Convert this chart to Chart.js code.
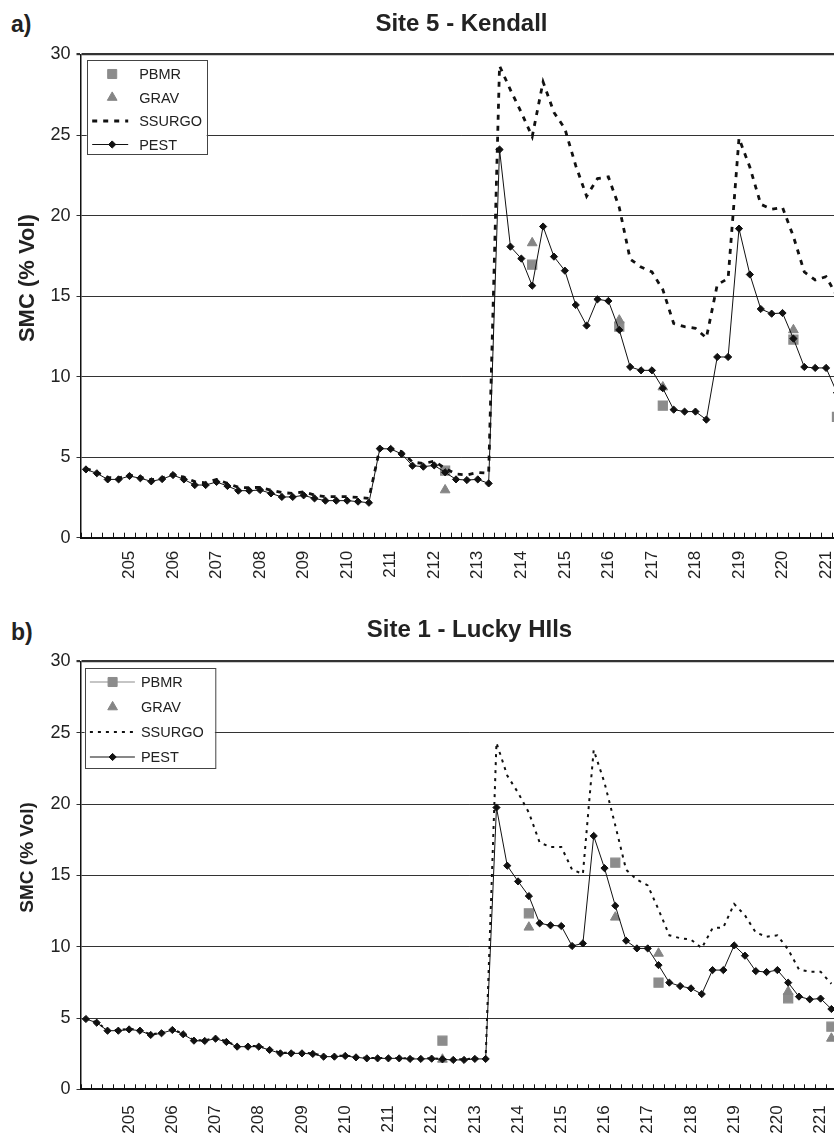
<!DOCTYPE html>
<html>
<head>
<meta charset="utf-8">
<script src="https://cdn.jsdelivr.net/npm/chart.js@4.4.1/dist/chart.umd.min.js"></script>
<style>
  html, body { margin: 0; padding: 0; background: #fff; }
  body { width: 834px; height: 1135px; overflow: hidden; position: relative; font-family: "Liberation Sans", Arial, sans-serif; }
  canvas { position: absolute; left: 0; display: block; }
  .letra { position: absolute; left: 11px; font-weight: bold; font-size: 23px; color: #222; line-height: 26px; }
</style>
</head>
<body>
<div class="letra" style="top:11px">a)</div>
<canvas id="chartA" width="850" height="592" style="top:0"></canvas>
<div class="letra" style="top:619px">b)</div>
<canvas id="chartB" width="866" height="543" style="top:592px"></canvas>

<script>
// dias (categorias de 6 em 6 horas)
const dias = ['204', '204.25', '204.5', '204.75', '205', '205.25', '205.5', '205.75',
    '206', '206.25', '206.5', '206.75', '207', '207.25', '207.5', '207.75',
    '208', '208.25', '208.5', '208.75', '209', '209.25', '209.5', '209.75',
    '210', '210.25', '210.5', '210.75', '211', '211.25', '211.5', '211.75',
    '212', '212.25', '212.5', '212.75', '213', '213.25', '213.5', '213.75',
    '214', '214.25', '214.5', '214.75', '215', '215.25', '215.5', '215.75',
    '216', '216.25', '216.5', '216.75', '217', '217.25', '217.5', '217.75',
    '218', '218.25', '218.5', '218.75', '219', '219.25', '219.5', '219.75',
    '220', '220.25', '220.5', '220.75', '221', '221.25']
const diasExtraB = ['221.5', '221.75']

const rotulosX = ['205', '206', '207', '208', '209', '210', '211', '212', '213',
    '214', '215', '216', '217', '218', '219', '220', '221']

// a) Site 5 - Kendall
const pestA = [4.24, 4.0, 3.62, 3.62, 3.83, 3.69, 3.5, 3.64, 3.89, 3.62,
    3.27, 3.27, 3.46, 3.21, 2.92, 2.92, 2.96, 2.75, 2.53, 2.53,
    2.63, 2.44, 2.3, 2.3, 2.3, 2.24, 2.17, 5.53, 5.51, 5.2,
    4.47, 4.41, 4.49, 4.06, 3.62, 3.58, 3.62, 3.37, 24.1, 18.07,
    17.33, 15.65, 19.32, 17.45, 16.58, 14.45, 13.17, 14.8, 14.7, 12.9,
    10.6, 10.39, 10.39, 9.28, 7.95, 7.83, 7.83, 7.33, 11.22, 11.22,
    19.19, 16.34, 14.2, 13.91, 13.95, 12.36, 10.6, 10.54, 10.54, 9.0]
const ssurgoA = [4.3, 4.05, 3.75, 3.7, 3.9, 3.75, 3.6, 3.7, 3.95, 3.75,
    3.48, 3.4, 3.62, 3.37, 3.13, 3.1, 3.13, 2.95, 2.8, 2.75,
    2.84, 2.65, 2.55, 2.55, 2.55, 2.5, 2.44, 5.55, 5.55, 5.34,
    4.7, 4.6, 4.75, 4.3, 3.95, 3.9, 4.05, 4.0, 29.3, 27.8,
    26.4, 24.9, 28.3, 26.4, 25.4, 23.1, 21.2, 22.3, 22.4, 20.5,
    17.3, 16.8, 16.5, 15.4, 13.3, 13.1, 13.0, 12.4, 15.7, 16.1,
    24.8, 23.0, 20.7, 20.4, 20.5, 18.7, 16.5, 16.0, 16.2, 15.0]
const diasPbmrA = ['212.25', '214.25', '216.25', '217.25', '220.25', '221.25']
const pbmrA = [4.16, 16.95, 13.1, 8.2, 12.3, 7.5]
const diasGravA = ['212.25', '214.25', '216.25', '217.25', '220.25']
const gravA = [2.96, 18.3, 13.5, 9.35, 12.9]

// b) Site 1 - Lucky Hills
const pestB = [4.93, 4.67, 4.11, 4.11, 4.2, 4.11, 3.81, 3.93, 4.16, 3.86,
    3.41, 3.39, 3.55, 3.32, 2.99, 2.99, 2.99, 2.76, 2.52, 2.52,
    2.52, 2.48, 2.29, 2.29, 2.34, 2.24, 2.17, 2.17, 2.17, 2.17,
    2.13, 2.13, 2.15, 2.1, 2.06, 2.06, 2.13, 2.13, 19.76, 15.68,
    14.58, 13.55, 11.64, 11.5, 11.45, 10.05, 10.23, 17.77, 15.51, 12.87,
    10.42, 9.88, 9.88, 8.71, 7.48, 7.24, 7.08, 6.68, 8.36, 8.36,
    10.09, 9.37, 8.29, 8.22, 8.36, 7.48, 6.5, 6.31, 6.36, 5.63]
const ssurgoB = [4.95, 4.7, 4.15, 4.15, 4.25, 4.15, 3.85, 3.97, 4.2, 3.9,
    3.45, 3.43, 3.6, 3.37, 3.03, 3.03, 3.03, 2.8, 2.57, 2.57,
    2.57, 2.52, 2.33, 2.33, 2.37, 2.28, 2.2, 2.2, 2.2, 2.2,
    2.16, 2.16, 2.18, 2.13, 2.1, 2.1, 2.16, 2.16, 24.3, 22.0,
    20.8, 19.4, 17.3, 17.0, 17.0, 15.4, 15.1, 23.8, 21.5, 18.5,
    15.4, 14.7, 14.3, 12.6, 10.8, 10.6, 10.5, 9.9, 11.3, 11.35,
    13.0, 12.2, 11.0, 10.7, 10.8, 9.8, 8.4, 8.25, 8.25, 7.4]
const diasPbmrB = ['212.25', '214.25', '216.25', '217.25', '220.25', '221.25']
const pbmrB = [3.41, 12.34, 15.89, 7.48, 6.38, 4.39]
const diasGravB = ['212.25', '214.25', '216.25', '217.25', '220.25', '221.25']
const gravB = [2.1, 11.36, 12.06, 9.53, 6.85, 3.57]

const corTexto = '#222'
const fonte = '"Liberation Sans", Arial, sans-serif'
Chart.defaults.font.family = fonte
Chart.defaults.color = corTexto

function pontos(listaDias, valores) {
    let saida = []
    for (let i = 0; i < listaDias.length; i++) {
        saida.push({ x: listaDias[i], y: valores[i] })
    }
    return saida
}

// marcas do eixo x, para dentro do grafico
const pluginMarcasX = {
    id: 'marcasX',
    afterDraw: function (chart) {
        const escala = chart.scales.x
        const ctx = chart.ctx
        const n = chart.data.labels.length
        const passo = escala.getPixelForValue(1) - escala.getPixelForValue(0)
        const base = chart.chartArea.bottom
        ctx.save()
        ctx.strokeStyle = '#111'
        ctx.lineWidth = 1
        ctx.beginPath()
        for (let i = 0; i <= n; i++) {
            const px = Math.round(escala.getPixelForValue(0) - passo / 2 + i * passo) + 0.5
            ctx.moveTo(px, base)
            ctx.lineTo(px, base - 5)
        }
        ctx.stroke()
        ctx.restore()
    }
}

// titulo do eixo y
const pluginTituloY = {
    id: 'tituloY',
    afterDraw: function (chart, args, opcoes) {
        const area = chart.chartArea
        const ctx = chart.ctx
        ctx.save()
        ctx.translate(28, (area.top + area.bottom) / 2 - 18)
        ctx.rotate(-Math.PI / 2)
        ctx.font = 'bold ' + opcoes.tamanho + 'px ' + fonte
        ctx.fillStyle = corTexto
        ctx.textAlign = 'center'
        ctx.textBaseline = 'middle'
        ctx.fillText(opcoes.texto, 0, 0)
        ctx.restore()
    }
}

// legenda dentro da area do grafico
const pluginLegenda = {
    id: 'legendaInterna',
    afterDraw: function (chart, args, opcoes) {
        const area = chart.chartArea
        const ctx = chart.ctx
        const x0 = area.left + opcoes.dx
        const y0 = area.top + opcoes.dy
        ctx.save()
        ctx.fillStyle = '#fff'
        ctx.fillRect(x0, y0, opcoes.largura, opcoes.altura)
        ctx.strokeStyle = '#444'
        ctx.lineWidth = 1
        ctx.strokeRect(Math.round(x0) + 0.5, Math.round(y0) + 0.5, opcoes.largura, opcoes.altura)

        opcoes.itens.forEach(function (item, k) {
            const ds = chart.data.datasets.find(function (d) { return d.label === item })
            const yi = y0 + opcoes.primeiro + k * opcoes.espaco
            const linha = ds.showLine !== false || opcoes.linhaExtra === item
            if (linha) {
                ctx.save()
                ctx.strokeStyle = ds.borderColor
                ctx.lineWidth = ds.borderWidth
                ctx.setLineDash(ds.borderDash || [])
                ctx.beginPath()
                ctx.moveTo(x0 + opcoes.linhaIni, yi)
                ctx.lineTo(x0 + opcoes.linhaFim, yi)
                ctx.stroke()
                ctx.restore()
            }
            if (ds.pointRadius > 0) {
                ctx.fillStyle = ds.pointBackgroundColor
                ctx.strokeStyle = ds.pointBorderColor
                ctx.lineWidth = 1
                Chart.helpers.drawPoint(ctx, {
                    pointStyle: ds.pointStyle, radius: ds.pointRadius, borderWidth: 1, rotation: 0
                }, x0 + opcoes.simbolo, yi)
            }
            ctx.fillStyle = corTexto
            ctx.font = '14.5px ' + fonte
            ctx.textAlign = 'left'
            ctx.textBaseline = 'middle'
            ctx.fillText(item, x0 + opcoes.textoX, yi + 1)
        })
        ctx.restore()
    }
}

function montarGrafico(idCanvas, cfg) {
    return new Chart(document.getElementById(idCanvas), {
        type: 'line',
        data: {
            labels: cfg.categorias,
            datasets: [
                {
                    label: 'PEST', data: cfg.pest, borderColor: '#111', borderWidth: 1,
                    pointStyle: 'rectRot', pointRadius: 3.6, pointBackgroundColor: '#111',
                    pointBorderColor: '#111', pointBorderWidth: 1, tension: 0, order: 0
                },
                {
                    label: 'SSURGO', data: cfg.ssurgo, borderColor: '#111', borderWidth: cfg.larguraSsurgo,
                    borderDash: cfg.tracoSsurgo, pointRadius: 0, tension: 0, order: 1
                },
                {
                    label: 'GRAV', data: pontos(cfg.diasGrav, cfg.grav), showLine: false,
                    pointStyle: 'triangle', pointRadius: 5.6, pointBackgroundColor: '#858585',
                    pointBorderColor: '#858585', borderColor: '#858585', order: 2
                },
                {
                    label: 'PBMR', data: pontos(cfg.diasPbmr, cfg.pbmr), showLine: false,
                    pointStyle: 'rect', pointRadius: 6.4, pointBackgroundColor: '#8c8c8c',
                    pointBorderColor: '#8c8c8c', borderColor: '#8c8c8c', borderWidth: 1.2, order: 3
                }
            ]
        },
        options: {
            responsive: false,
            animation: false,
            devicePixelRatio: 1,
            layout: { padding: { left: 0, right: cfg.padDireita, top: 0, bottom: 0 } },
            plugins: {
                legend: { display: false },
                tooltip: { enabled: false },
                title: {
                    display: true, text: cfg.titulo, fullSize: false, color: corTexto,
                    font: { size: 24, weight: 'bold' },
                    padding: { top: cfg.tituloTopo, bottom: cfg.tituloBase }
                },
                tituloY: { texto: 'SMC (% Vol)', tamanho: cfg.tamanhoTituloY },
                legendaInterna: cfg.legenda
            },
            scales: {
                x: {
                    type: 'category',
                    offset: true,
                    grid: { display: false, drawTicks: false },
                    border: { display: true, color: '#111', width: 2 },
                    ticks: {
                        autoSkip: false, maxRotation: 90, minRotation: 90,
                        padding: cfg.padRotulo, color: corTexto, font: { size: 17 },
                        callback: function (valor, indice) {
                            const d = cfg.categorias[indice]
                            return rotulosX.indexOf(d) >= 0 ? d : ''
                        }
                    },
                    afterFit: function (escala) {
                        escala.height = cfg.alturaX
                        escala.paddingLeft = 0
                        escala.paddingRight = 0
                    }
                },
                y: {
                    min: 0, max: 30,
                    ticks: { stepSize: 5, padding: 6, color: corTexto, font: { size: 18 } },
                    grid: {
                        color: '#333',
                        lineWidth: function (c) { return c.tick && c.tick.value === 30 ? 2.2 : 1 },
                        tickLength: 4
                    },
                    border: { display: true, color: '#111', width: 1.5 },
                    afterFit: function (escala) {
                        escala.width = 80.5
                        escala.paddingTop = 0
                        escala.paddingBottom = 0
                    }
                }
            }
        },
        plugins: [pluginMarcasX, pluginTituloY, pluginLegenda]
    })
}

const graficoA = montarGrafico('chartA', {
    categorias: dias,
    pest: pestA, ssurgo: ssurgoA,
    diasPbmr: diasPbmrA, pbmr: pbmrA, diasGrav: diasGravA, grav: gravA,
    larguraSsurgo: 2.8, tracoSsurgo: [5, 6],
    titulo: 'Site 5 - Kendall',
    tituloTopo: 9.6, tituloBase: 16.1,
    padDireita: 6.5, alturaX: 54.3, padRotulo: 13,
    tamanhoTituloY: 22,
    legenda: {
        itens: ['PBMR', 'GRAV', 'SSURGO', 'PEST'],
        dx: 6.2, dy: 5.5, largura: 120, altura: 94,
        primeiro: 14, espaco: 23.5,
        linhaIni: 5.5, linhaFim: 41.5, simbolo: 25.5, textoX: 52.5
    }
})

const graficoB = montarGrafico('chartB', {
    categorias: dias.concat(diasExtraB),
    pest: pestB, ssurgo: ssurgoB,
    diasPbmr: diasPbmrB, pbmr: pbmrB, diasGrav: diasGravB, grav: gravB,
    larguraSsurgo: 2, tracoSsurgo: [3, 5],
    titulo: 'Site 1 - Lucky HIls',
    tituloTopo: 23.6, tituloBase: 17.1,
    padDireita: 1.8, alturaX: 45.7, padRotulo: 16,
    tamanhoTituloY: 19,
    legenda: {
        itens: ['PBMR', 'GRAV', 'SSURGO', 'PEST'],
        linhaExtra: 'PBMR',
        dx: 4.1, dy: 6.5, largura: 130.3, altura: 100,
        primeiro: 14, espaco: 25,
        linhaIni: 5.3, linhaFim: 50.3, simbolo: 28, textoX: 56.3
    }
})
</script>
</body>
</html>
